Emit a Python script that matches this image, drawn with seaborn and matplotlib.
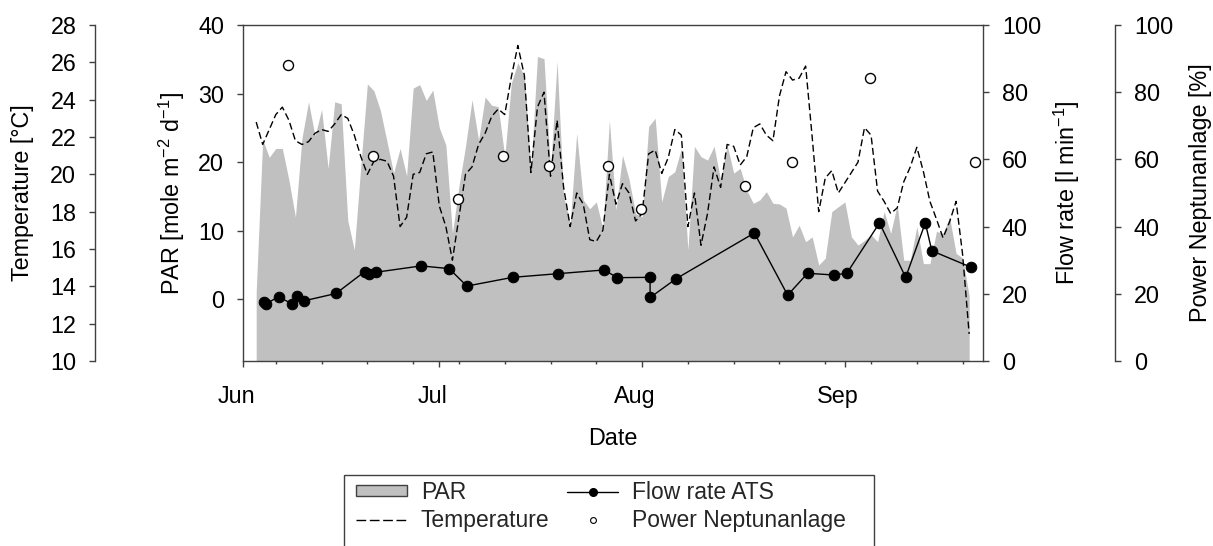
import numpy as np
import pandas as pd
import matplotlib
matplotlib.use("Agg")
import matplotlib.pyplot as plt
import matplotlib.dates as mdates
import matplotlib.ticker as mticker
import matplotlib.transforms as mtransforms
from matplotlib.patches import Patch, Rectangle
from matplotlib.lines import Line2D
import seaborn as sns

# ---- data -------------------------------------------------------------
# daily PAR [mol m-2 d-1] and water temperature [degC], from 3 June
daily_start = "2013-06-03"
par_values = [
    1.0, 23.3, 20.7, 22.0, 22.0, 17.4, 12.0, 23.5, 28.8, 23.8,
    27.7, 19.1, 28.8, 28.5, 11.5, 7.2, 19.5, 31.4, 30.4, 27.5,
    23.0, 18.4, 22.0, 18.0, 30.8, 31.3, 29.0, 30.5, 25.0, 22.5,
    9.6, 16.5, 22.3, 29.1, 23.2, 29.5, 28.3, 28.1, 20.8, 31.5,
    34.5, 32.5, 18.9, 35.4, 35.1, 18.9, 34.7, 15.0, 11.0, 24.2,
    14.5, 13.2, 14.2, 10.3, 26.1, 13.0, 21.0, 17.5, 12.5, 12.0,
    25.2, 26.4, 14.2, 17.9, 18.6, 22.0, 7.2, 22.3, 20.8, 20.3,
    22.3, 17.4, 22.5, 18.4, 19.1, 15.9, 14.0, 14.5, 15.7, 14.0,
    13.9, 13.3, 9.1, 10.8, 8.4, 9.1, 5.0, 6.0, 12.8, 13.5,
    14.2, 9.1, 7.9, 8.6, 9.4, 8.4, 12.8, 9.6, 13.8, 5.7,
    5.7, 10.6, 5.2, 5.2, 9.9, 9.6, 12.0, 6.7, 6.0, 0.5,
]
temp_values = [
    22.8, 21.6, 22.4, 23.2, 23.6, 22.9, 21.8, 21.6, 21.75, 22.2,
    22.4, 22.3, 22.7, 23.2, 23.0, 22.1, 20.95, 20.0, 20.7, 20.8,
    20.7, 19.9, 17.2, 17.7, 20.0, 20.1, 21.1, 21.2, 18.3, 17.2,
    15.4, 17.7, 20.0, 20.4, 21.6, 22.2, 23.1, 23.5, 23.2, 25.2,
    26.9, 25.3, 20.1, 23.6, 24.4, 19.9, 22.9, 19.3, 17.2, 19.0,
    18.4, 16.5, 16.4, 17.0, 20.0, 18.4, 19.5, 19.0, 17.5, 17.9,
    21.1, 21.3, 20.05, 20.9, 22.4, 22.1, 17.2, 19.0, 16.2, 17.9,
    20.4, 19.3, 21.6, 21.5, 20.5, 20.95, 22.5, 22.7, 22.1, 21.8,
    24.2, 25.5, 25.05, 25.15, 25.8, 22.0, 18.0, 19.8, 20.2, 19.0,
    19.55, 20.1, 20.65, 22.5, 22.1, 19.1, 18.55, 17.9, 18.2, 19.6,
    20.4, 21.45, 20.15, 18.55, 17.6, 16.6, 17.45, 18.55, 15.7, 11.45,
]

# flow rate through the ATS [l min-1]
flow_times = [
    "2013-06-04 06:00", "2013-06-04 11:00", "2013-06-06 10:00", "2013-06-08 12:00",
    "2013-06-09 05:00", "2013-06-10 07:00", "2013-06-15 05:00", "2013-06-19 14:00",
    "2013-06-20 07:00", "2013-06-21 06:00", "2013-06-28 05:00", "2013-07-02 12:00",
    "2013-07-05 05:00", "2013-07-12 05:00", "2013-07-19 05:00", "2013-07-26 05:00",
    "2013-07-28 05:00", "2013-08-02 05:00", "2013-08-02 05:30", "2013-08-06 05:00",
    "2013-08-18 04:00", "2013-08-23 06:00", "2013-08-26 07:00", "2013-08-30 07:00",
    "2013-09-01 07:00", "2013-09-06 07:00", "2013-09-10 07:00", "2013-09-13 07:00",
    "2013-09-14 07:00", "2013-09-20 07:00",
]
flow_values = [
    17.7, 17.0, 19.1, 17.0, 19.3, 17.9, 20.1, 26.6, 25.9, 26.4,
    28.3, 27.5, 22.3, 24.9, 26.0, 27.1, 24.8, 24.9, 18.9, 24.5,
    38.1, 19.6, 26.1, 25.6, 26.1, 41.1, 24.9, 41.1, 32.8, 27.9,
]

# power of the Neptun unit [%]
power_times = [
    "2013-06-07 21:00", "2013-06-20 19:00", "2013-07-03 21:00", "2013-07-10 19:00",
    "2013-07-17 19:00", "2013-07-26 20:00", "2013-07-31 20:00", "2013-08-16 19:00",
    "2013-08-23 22:00", "2013-09-04 20:00", "2013-09-20 22:00",
]
power_values = [88.1, 61.1, 48.2, 61.1, 58.1, 58.1, 45.1, 52.2, 59.1, 84.1, 59.1]

legend_labels = ["PAR", "Temperature", "Flow rate ATS", "Power Neptunanlage"]

# ---- style ------------------------------------------------------------
sns.set_style("ticks")
FS = 16.8
EDGE = "#404040"
plt.rcParams.update({
    "font.family": ["Liberation Sans", "DejaVu Sans"],
    "font.size": FS,
    "mathtext.fontset": "custom",
    "mathtext.rm": "Liberation Sans",
    "mathtext.it": "Liberation Sans:italic",
    "mathtext.bf": "Liberation Sans:bold",
    "mathtext.default": "regular",
    "axes.linewidth": 1.0,
    "axes.edgecolor": EDGE,
    "xtick.color": EDGE,
    "ytick.color": EDGE,
    "xtick.labelcolor": "black",
    "ytick.labelcolor": "black",
    "axes.labelcolor": "black",
})

daily = pd.DataFrame({
    "date": pd.date_range(daily_start, periods=len(par_values), freq="D"),
    "par": par_values,
    "temp": temp_values,
})
flow = pd.DataFrame({"time": pd.to_datetime(flow_times), "flow": flow_values})
power = pd.DataFrame({"time": pd.to_datetime(power_times), "power": power_values})

W, H = 1213, 546
fig = plt.figure(figsize=(W / 100, H / 100), dpi=100)
ax = fig.add_axes([243.1 / W, 1 - 361 / H, 740 / W, 336 / H])

PAR_MIN = -9.0
FILL = "#c0c0c0"
DASH = (0, (5, 2.5))

# PAR as a filled area down to the bottom of the axis
ax.fill_between(daily["date"], daily["par"], PAR_MIN, color=FILL, lw=0, zorder=1)
ax.set_ylim(PAR_MIN, 40)
ax.set_yticks([0, 10, 20, 30, 40])
ax.spines["right"].set_visible(False)

# temperature on an offset left axis
ax_t = ax.twinx()
for s in ("right", "top", "bottom"):
    ax_t.spines[s].set_visible(False)
ax_t.spines["left"].set_visible(True)
ax_t.spines["left"].set_position(("axes", -0.2001))
ax_t.yaxis.set_ticks_position("left")
ax_t.yaxis.set_label_position("left")
sns.lineplot(data=daily, x="date", y="temp", ax=ax_t, color="black",
             lw=1.0, linestyle=DASH, estimator=None, legend=False)
ax_t.set_ylim(10, 28)
ax_t.set_yticks(range(10, 29, 2))

# flow rate on the right axis
ax_f = ax.twinx()
for s in ("left", "top", "bottom"):
    ax_f.spines[s].set_visible(False)
sns.lineplot(data=flow, x="time", y="flow", ax=ax_f, color="black", lw=1.0,
             marker="o", ms=7.6, mec="black", mfc="black", estimator=None,
             sort=False, legend=False)
ax_f.set_ylim(0, 100)
ax_f.set_yticks(range(0, 101, 20))

# power on an outer right axis
ax_p = ax.twinx()
for s in ("left", "top", "bottom"):
    ax_p.spines[s].set_visible(False)
ax_p.spines["right"].set_position(("axes", 1.1783))
sns.scatterplot(data=power, x="time", y="power", ax=ax_p, color="white",
                edgecolor="black", s=52, linewidth=1.0, zorder=5, legend=False)
ax_p.set_ylim(0, 100)
ax_p.set_yticks(range(0, 101, 20))

# date axis: months as major ticks, weekly minor ticks
ax.set_xlim(pd.Timestamp("2013-06-01"), pd.Timestamp("2013-06-01") + pd.Timedelta(days=113.13))
ax.xaxis.set_major_locator(mdates.MonthLocator())
ax.xaxis.set_major_formatter(mdates.DateFormatter("%b"))
ax.xaxis.set_minor_locator(mticker.FixedLocator(
    mdates.date2num(pd.date_range("2013-06-06", "2013-09-22", freq="7D"))))
ax.tick_params(axis="x", which="major", length=4.2, width=1.0, pad=13, labelsize=FS)
ax.tick_params(axis="x", which="minor", length=2.4, width=1.0)
for a in (ax, ax_t, ax_f, ax_p):
    a.tick_params(axis="y", length=4.2, width=1.0, pad=9.3, labelsize=FS)

# axis titles
ax.set_xlabel("Date", va="center")
ax.xaxis.set_label_coords(0.5, -0.230)
ax.set_ylabel("PAR [mole m$^{-2}$ d$^{-1}$]", va="center")
ax.yaxis.set_label_coords(-0.0965, 0.5)
ax_t.set_ylabel("Temperature [°C]", va="center")
ax_t.yaxis.set_label_coords(-0.2975, 0.5)
ax_f.set_ylabel("Flow rate [l min$^{-1}$]", va="center")
ax_f.yaxis.set_label_coords(1.113, 0.5)
ax_p.set_ylabel("Power Neptunanlage [%]", va="center")
ax_p.yaxis.set_label_coords(1.294, 0.5)

# legend below the plot
handles = [
    Patch(facecolor=FILL, edgecolor=EDGE, linewidth=1.0),
    Line2D([], [], color="black", lw=1.0, linestyle=(0, (7, 2.6))),
    Line2D([], [], color="black", lw=1.0, marker="o", ms=5.5),
    Line2D([], [], linestyle="none", marker="o", ms=4.2, mfc="white", mec="black", mew=0.8),
]
fig.legend(handles, legend_labels, loc="upper left",
           bbox_to_anchor=(355.6 / W, 1 - 481 / H), ncol=2, frameon=False,
           borderpad=0, borderaxespad=0, handlelength=2.25, handleheight=0.37,
           handletextpad=0.6, columnspacing=0.75, labelspacing=0.2, fontsize=16.5)
fig.add_artist(Rectangle((343.5 / W, -0.1), (874 - 343.5) / W, (1 - 475 / H) + 0.1,
                         transform=fig.transFigure, fill=False, edgecolor=EDGE, lw=1.0))

# month names sit slightly left of their ticks
fig.canvas.draw()
shift = mtransforms.ScaledTranslation(-7 / 100, 0, fig.dpi_scale_trans)
for lbl in ax.get_xticklabels():
    lbl.set_transform(lbl.get_transform() + shift)

fig.savefig("out.png", dpi=100)
